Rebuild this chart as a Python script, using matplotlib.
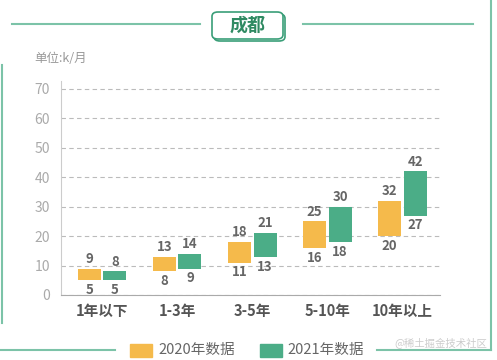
import matplotlib
matplotlib.use("Agg")
import matplotlib.pyplot as plt
from matplotlib.patches import FancyBboxPatch, Rectangle
from matplotlib.lines import Line2D
import numpy as np

plt.rcParams['font.family'] = ['Noto Sans CJK SC', 'DejaVu Sans']

categories = ['1年以下', '1-3年', '3-5年', '5-10年', '10年以上']
low_2020 = [5, 8, 11, 16, 20]
high_2020 = [9, 13, 18, 25, 32]
low_2021 = [5, 9, 13, 18, 27]
high_2021 = [8, 14, 21, 30, 42]
yticks = [0, 10, 20, 30, 40, 50, 60, 70]

c2020 = '#F5BA4B'
c2021 = '#4BAD87'
W, H = 497, 360

fig = plt.figure(figsize=(W / 100, H / 100), dpi=100)
ax = fig.add_axes([61 / W, 65 / H, 379 / W, 214 / H])

x = np.arange(len(categories))
bw = 0.307
off = 0.17
ax.bar(x - off, np.subtract(high_2020, low_2020), bw, bottom=low_2020, color=c2020)
ax.bar(x + off, np.subtract(high_2021, low_2021), bw, bottom=low_2021, color=c2021)

for xs, lo, hi in [(x - off, low_2020, high_2020), (x + off, low_2021, high_2021)]:
    for xi, l, h in zip(xs, lo, hi):
        ax.annotate(str(h), (xi, h), xytext=(0, 2), textcoords='offset points',
                    ha='center', va='bottom', fontsize=9.5, color='#666666', fontweight='bold')
        ax.annotate(str(l), (xi, l), xytext=(0, -2), textcoords='offset points',
                    ha='center', va='top', fontsize=9.5, color='#666666', fontweight='bold')

ax.set_xlim(-0.547, len(categories) - 0.5)
ax.set_ylim(0, 72.7)
ax.set_yticks(yticks)
ax.set_xticks(x)
ax.set_xticklabels(categories, fontsize=10.5, color='#555555', fontweight='bold')
ax.tick_params(axis='y', length=0, labelsize=10, labelcolor='#aaaaaa', pad=8)
ax.tick_params(axis='x', length=0, pad=6)
ax.yaxis.grid(True, linestyle=(0, (4, 3)), color='#bbbbbb', linewidth=0.8)
ax.set_axisbelow(True)
for s in ['top', 'right']:
    ax.spines[s].set_visible(False)
ax.spines['left'].set_color('#cccccc')
ax.spines['bottom'].set_color('#aaaaaa')

def fx(px):
    return px / W

def fy(py):
    return 1 - py / H

lc = '#7cc3a8'
fig.add_artist(Line2D([fx(12), fx(200)], [fy(24), fy(24)], color=lc, lw=1.5))
fig.add_artist(Line2D([fx(303), fx(473)], [fy(24), fy(24)], color=lc, lw=1.5))
fig.add_artist(Line2D([fx(2), fx(2)], [fy(65), fy(323)], color=lc, lw=1.5))
fig.add_artist(Line2D([fx(0), fx(115)], [fy(350), fy(350)], color=lc, lw=1.5))
fig.add_artist(Line2D([fx(491), fx(491)], [fy(0), fy(350)], color=lc, lw=1.5))
fig.add_artist(Line2D([fx(377), fx(491)], [fy(350), fy(350)], color=lc, lw=1.5))

# title box with shadow
for o, z in [(2, 1), (0, 2)]:
    fig.add_artist(FancyBboxPatch((fx(212 + o), fy(39 + o)), fx(71), 27 / H,
                                  boxstyle='round,pad=0,rounding_size=0.012',
                                  facecolor='white', edgecolor='#3a9e78', lw=1.2,
                                  transform=fig.transFigure, zorder=z))
fig.text(fx(248), fy(25), '成都', ha='center', va='center', fontsize=13,
         fontweight='bold', color='#2f8a62', zorder=3)

fig.text(fx(34), fy(58), '单位:k/月', ha='left', va='center', fontsize=9, color='#999999')

# legend
fig.add_artist(Rectangle((fx(130), fy(357)), fx(22), 13 / H, color=c2020, transform=fig.transFigure))
fig.text(fx(158), fy(350), '2020年数据', ha='left', va='center', fontsize=10.5, color='#666666')
fig.add_artist(Rectangle((fx(260), fy(357)), fx(22), 13 / H, color=c2021, transform=fig.transFigure))
fig.text(fx(287), fy(350), '2021年数据', ha='left', va='center', fontsize=10.5, color='#666666')

fig.text(fx(487), fy(343), '@稀土掘金技术社区', ha='right', va='center', fontsize=7.5, color='#cccccc')

fig.savefig('out.png', dpi=100)
